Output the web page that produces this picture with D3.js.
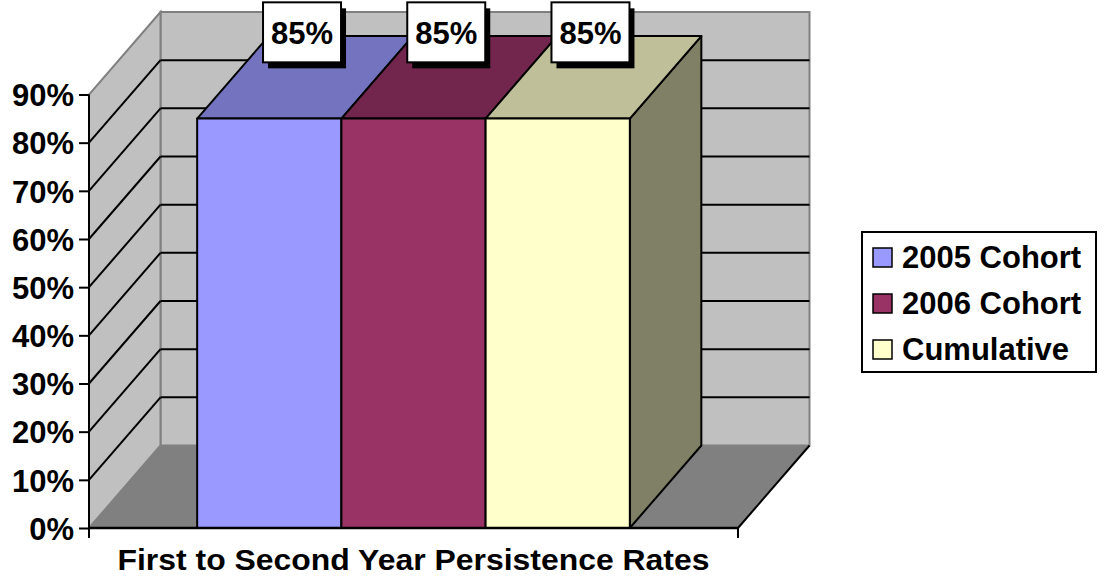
<!DOCTYPE html>
<html>
<head>
<meta charset="utf-8">
<script src="https://cdn.jsdelivr.net/npm/d3@7"></script>
<style>
  html, body { margin: 0; padding: 0; background: #fff; }
  svg { display: block; }
  text { font-family: "Liberation Sans", Arial, sans-serif; font-weight: bold; fill: #000; }
</style>
</head>
<body>
<svg id="chart" width="1105" height="581"></svg>
<script>
// Persistence rates by cohort
const categories = ["First to Second Year Persistence Rates"];
const seriesNames = ["2005 Cohort", "2006 Cohort", "Cumulative"];
const seriesValues = [0.85, 0.85, 0.85];
const tickValues = [0, 0.1, 0.2, 0.3, 0.4, 0.5, 0.6, 0.7, 0.8, 0.9];

const frontColors = ["#9999FF", "#993366", "#FFFFCC"];

const svg = d3.select("#chart");

// Oblique projection offset for the depth of the plot box
const depth = { dx: 71.5, dy: -82.5 };

const x = d3.scaleBand().domain(categories).range([89, 738]).padding(0.2);
const xs = d3.scaleBand().domain(seriesNames).range([0, x.bandwidth()]).padding(0);
const y = d3.scaleLinear().domain([0, 0.9]).range([528, 94.5]);

const x0 = x.range()[0], x1 = x.range()[1];
const yTop = y(0.9), yBot = y(0);
const shade = (c, k) => { const r = d3.rgb(c); return d3.rgb(r.r * k, r.g * k, r.b * k).formatHex(); };
const pts = a => a.map(p => p.join(",")).join(" ");

// Walls and floor
const g = svg.append("g");
// floor
g.append("polygon")
  .attr("points", pts([[x0, yBot], [x1, yBot], [x1 + depth.dx, yBot + depth.dy], [x0 + depth.dx, yBot + depth.dy]]))
  .attr("fill", "#808080").attr("stroke", "none");
// back wall
g.append("rect")
  .attr("x", x0 + depth.dx).attr("y", yTop + depth.dy)
  .attr("width", x1 - x0).attr("height", yBot - yTop)
  .attr("fill", "#C0C0C0").attr("stroke", "#808080").attr("stroke-width", 2);
// left side wall
g.append("polygon")
  .attr("points", pts([[x0, yBot], [x0, yTop], [x0 + depth.dx, yTop + depth.dy], [x0 + depth.dx, yBot + depth.dy]]))
  .attr("fill", "#C0C0C0").attr("stroke", "#808080").attr("stroke-width", 2);

// Gridlines on the back and side walls
const gridVals = tickValues.filter(v => v > 0 && v < 0.9);
g.selectAll("line.gback").data(gridVals).join("line")
  .attr("x1", x0 + depth.dx).attr("x2", x1 + depth.dx)
  .attr("y1", d => y(d) + depth.dy).attr("y2", d => y(d) + depth.dy)
  .attr("stroke", "#000").attr("stroke-width", 2);
g.selectAll("line.gside").data(gridVals).join("line")
  .attr("x1", x0).attr("x2", x0 + depth.dx)
  .attr("y1", d => y(d)).attr("y2", d => y(d) + depth.dy)
  .attr("stroke", "#000").attr("stroke-width", 2);
// right floor edge
g.append("line")
  .attr("x1", x1).attr("y1", yBot).attr("x2", x1 + depth.dx).attr("y2", yBot + depth.dy)
  .attr("stroke", "#000").attr("stroke-width", 2);

// Bars (front, top, side faces)
const bars = svg.append("g");
seriesNames.forEach((name, i) => {
  const bx = x(categories[0]) + xs(name);
  const bw = xs.bandwidth();
  const yt = y(seriesValues[i]);
  const c = frontColors[i];
  const bg = bars.append("g").attr("stroke", "#000").attr("stroke-width", 2).attr("stroke-linejoin", "round");
  bg.append("polygon")
    .attr("points", pts([[bx + bw, yt], [bx + bw + depth.dx, yt + depth.dy], [bx + bw + depth.dx, yBot + depth.dy], [bx + bw, yBot]]))
    .attr("fill", shade(c, 0.5));
  bg.append("polygon")
    .attr("points", pts([[bx, yt], [bx + bw, yt], [bx + bw + depth.dx, yt + depth.dy], [bx + depth.dx, yt + depth.dy]]))
    .attr("fill", shade(c, 0.75));
  bg.append("rect")
    .attr("x", bx).attr("y", yt).attr("width", bw).attr("height", yBot - yt)
    .attr("fill", c);
});

// Axes
const yAxis = d3.axisLeft(y).tickValues(tickValues).tickFormat(d3.format(".0%")).tickSize(10).tickPadding(5);
const ya = svg.append("g").attr("transform", `translate(${x0},0)`).call(yAxis);
ya.select(".domain").attr("stroke", "#000").attr("stroke-width", 2).attr("d", `M0,${yTop}V${yBot}`);
ya.selectAll(".tick line").attr("stroke", "#000").attr("stroke-width", 2);
ya.selectAll(".tick text").style("font-size", "31px").style("font-family", "'Liberation Sans', Arial, sans-serif")
  .style("font-weight", "bold").attr("fill", "#000").attr("dy", "0.36em");

svg.append("line").attr("x1", x0).attr("x2", x1).attr("y1", yBot).attr("y2", yBot)
  .attr("stroke", "#000").attr("stroke-width", 2.5);
svg.selectAll("line.xtick").data(x.range()).join("line")
  .attr("x1", d => d).attr("x2", d => d).attr("y1", yBot).attr("y2", yBot + 10)
  .attr("stroke", "#000").attr("stroke-width", 2);

// Category axis title
svg.append("text")
  .attr("x", (x0 + x1) / 2).attr("y", 570)
  .attr("text-anchor", "middle")
  .attr("textLength", 592).attr("lengthAdjust", "spacingAndGlyphs")
  .style("font-size", "29px")
  .text(categories[0]);

// Data labels
const labels = svg.append("g");
seriesNames.forEach((name, i) => {
  const ax = x(categories[0]) + xs(name) + xs.bandwidth() / 2 + depth.dx / 2 - 3;
  const ay = y(seriesValues[i]) + depth.dy / 2;
  const w = 78, h = 60;
  const lx = ax - w / 2, ly = ay - 15 - h;
  labels.append("rect").attr("x", lx + 5).attr("y", ly + 6).attr("width", w).attr("height", h).attr("fill", "#000");
  labels.append("rect").attr("x", lx).attr("y", ly).attr("width", w).attr("height", h)
    .attr("fill", "#fff").attr("stroke", "#000").attr("stroke-width", 2);
  labels.append("text").attr("x", ax).attr("y", ly + 42).attr("text-anchor", "middle")
    .style("font-size", "31px").text(d3.format(".0%")(seriesValues[i]));
});

// Legend
const legend = svg.append("g");
legend.append("rect").attr("x", 862).attr("y", 232).attr("width", 234).attr("height", 140)
  .attr("fill", "#fff").attr("stroke", "#000").attr("stroke-width", 2);
seriesNames.forEach((name, i) => {
  const ly = 248 + i * 46;
  legend.append("rect").attr("x", 873).attr("y", ly).attr("width", 19).attr("height", 19)
    .attr("fill", frontColors[i]).attr("stroke", "#000").attr("stroke-width", 1.5);
  legend.append("text").attr("x", 902).attr("y", ly + 19.5).style("font-size", "31px").text(name);
});
</script>
</body>
</html>
